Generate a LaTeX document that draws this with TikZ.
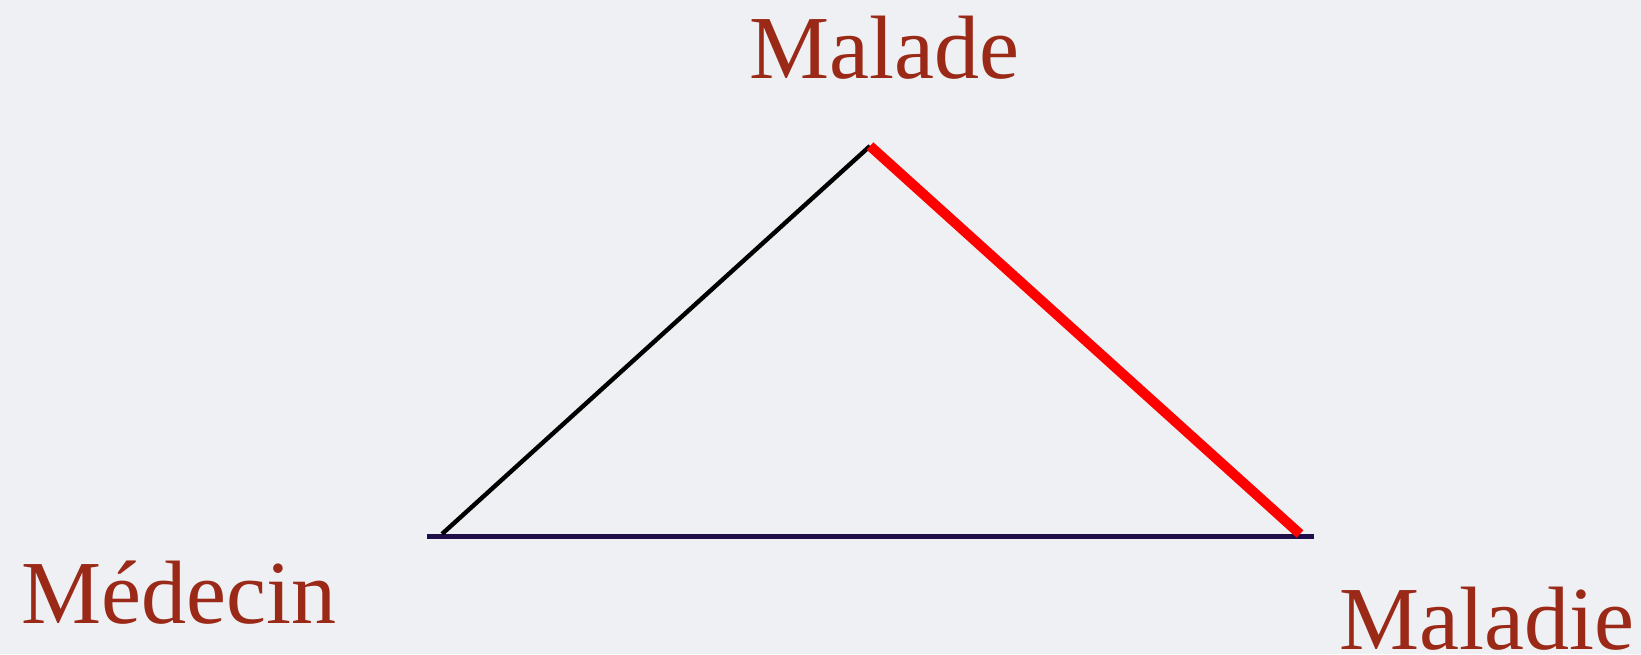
\documentclass[tikz,border=0pt]{standalone}
\usepackage{fontspec}
\setmainfont{Liberation Serif}
\definecolor{bgc}{HTML}{EFF0F3}
\definecolor{txt}{HTML}{9B2918}
\definecolor{navy}{HTML}{1E0F4A}
\definecolor{redl}{HTML}{FF0000}
\begin{document}
\begin{tikzpicture}[x=0.5pt,y=-0.5pt,
  lbl/.style={inner sep=0pt,anchor=base west,text=txt,font=\fontsize{45pt}{50pt}\selectfont}]
\fill[bgc] (0,0) rectangle (1641,654);
\useasboundingbox (0,0) rectangle (1641,654);
\coordinate (apex) at (870,146);
\coordinate (bl) at (442,534);
\coordinate (br) at (1300,534);
\coordinate (hl) at (427,536.5);
\coordinate (hr) at (1314,536.5);
\draw[navy,line width=2.5pt] (hl) -- (hr);
\draw[black,line width=2.2pt] (bl) -- (apex);
\draw[redl,line width=5pt] (apex) -- (br);
\node[lbl] (malade) at (749,78) {Malade};
\node[lbl] (medecin) at (21,623) {Médecin};
\node[lbl] (maladie) at (1339,649) {Maladie};
\end{tikzpicture}
\end{document}
